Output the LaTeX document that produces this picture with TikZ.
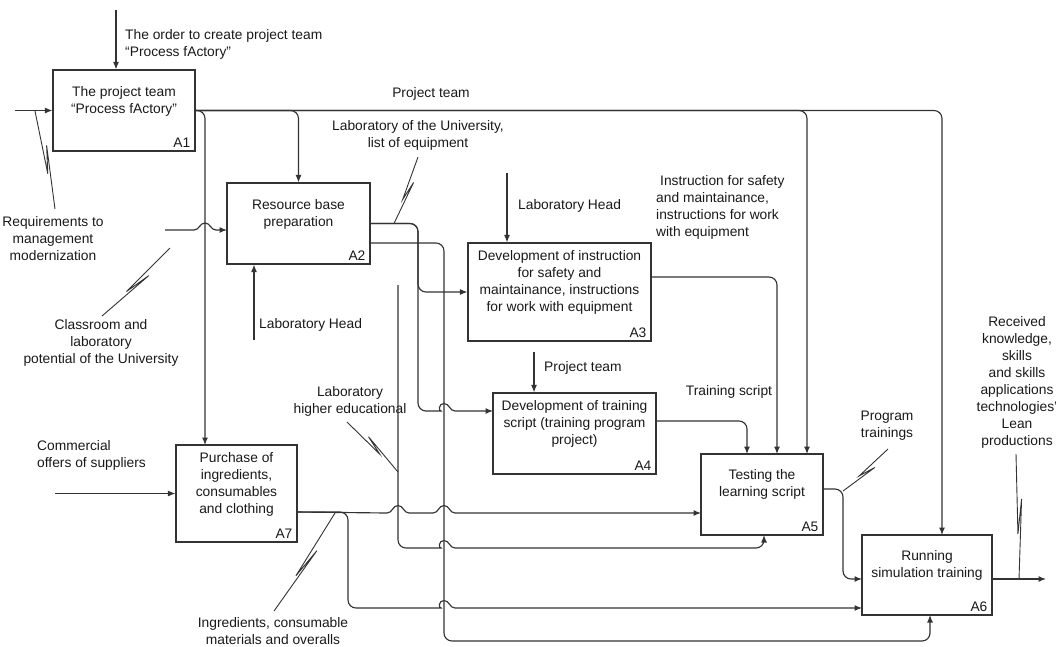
\documentclass[tikz,border=0pt]{standalone}
\usepackage{fontspec}
\setmainfont{Liberation Sans}
\usetikzlibrary{arrows.meta,calc}
\newcommand\squig[2]{\draw[sq] (#1) -- ($(#1)!0.64!(#2)$) -- ($(#1)!0.36!(#2)!4.5pt!90:(#2)$) -- (#2);}
\begin{document}
\begin{tikzpicture}[x=1pt,y=-1pt,
  every node/.style={inner sep=0pt, text=black!90, font=\fontsize{13.8}{17}\selectfont},
  box/.style={draw=black!80, line width=1.15pt},
  txt/.style={align=center},
  ltxt/.style={align=left, anchor=west},
  num/.style={anchor=south east},
  arr/.style={draw=black!80, line width=1.15pt, rounded corners=8pt, -{Latex[length=7.5pt,width=6pt]}},
  sq/.style={draw=black!80, line width=0.9pt}]
\useasboundingbox (0,0) rectangle (1056,646);

% ---------- boxes ----------
\node[box,minimum width=142pt,minimum height=81pt] (A1) at (124,110.5) {};
\node[txt] (A1t) at (124,101.5) {The project team\\“Process fActory”};
\node[num] (A1n) at ($(A1.south east)+(-5,-4)$) {A1};

\node[box,minimum width=143pt,minimum height=81pt] (A2) at (298.5,223.5) {};
\node[txt] (A2t) at (298.5,214.5) {Resource base\\preparation};
\node[num] (A2n) at ($(A2.south east)+(-5,-4)$) {A2};

\node[box,minimum width=183pt,minimum height=98pt] (A3) at (559.5,292) {};
\node[txt] (A3t) at (559.5,282) {Development of instruction\\for safety and\\maintainance, instructions\\for work with equipment};
\node[num] (A3n) at ($(A3.south east)+(-5,-4)$) {A3};

\node[box,minimum width=163pt,minimum height=81pt] (A4) at (574.5,433.5) {};
\node[txt] (A4t) at (574.5,424) {Development of training\\script (training program\\project)};
\node[num] (A4n) at ($(A4.south east)+(-5,-4)$) {A4};

\node[box,minimum width=122pt,minimum height=81pt] (A5) at (762,494.5) {};
\node[txt] (A5t) at (762,484.5) {Testing the\\learning script};
\node[num] (A5n) at ($(A5.south east)+(-5,-4)$) {A5};

\node[box,minimum width=130pt,minimum height=80pt] (A6) at (927,575) {};
\node[txt] (A6t) at (927,565.5) {Running\\simulation training};
\node[num] (A6n) at ($(A6.south east)+(-5,-4)$) {A6};

\node[box,minimum width=121pt,minimum height=97pt] (A7) at (236.5,493.5) {};
\node[txt] (A7t) at (236.5,484.5) {Purchase of\\ingredients,\\consumables\\and clothing};
\node[num] (A7n) at ($(A7.south east)+(-5,-4)$) {A7};

% ---------- labels ----------
\node[ltxt] (Lorder) at (125,44) {The order to create project team\\“Process fActory”};
\node[txt] (Lreq) at (53,239) {Requirements to\\management\\modernization};
\node[txt] (Lpt) at (431,94) {Project team};
\node[txt] (Lclass) at (101,343) {Classroom and\\laboratory\\potential of the University};
\node[txt] (Llab) at (418,135) {Laboratory of the University,\\list of equipment};
\node[ltxt] (Llh2) at (259,325) {Laboratory Head};
\node[ltxt] (Llh3) at (518,206) {Laboratory Head};
\node[ltxt] (Linstr) at (656,207.5) {\hspace*{4pt}Instruction for safety\\and maintainance,\\instructions for work\\with equipment};
\node[ltxt] (Lpt4) at (544,368) {Project team};
\node[txt] (Lts) at (729,392) {Training script};
\node[txt] (Llhe) at (350,401) {Laboratory\\higher educational};
\node[ltxt] (Lcom) at (37,455.5) {Commercial\\offers of suppliers};
\node[txt] (Ling) at (273,631) {Ingredients, consumable\\materials and overalls};
\node[txt] (Lprog) at (887,426) {Program\\trainings};
\node[txt] (Lrec) at (1017,382) {Received\\knowledge,\\skills\\and skills\\applications\\technologies'\\Lean\\productions};

% ---------- coordinates ----------
\coordinate (c1s) at (116,10);
\coordinate (i1s) at (15,110.5);
\coordinate (a6t) at (942,535);
\coordinate (a5t3) at (807,454);
\coordinate (a7t) at (205,445);
\coordinate (i2s) at (165,230);
\coordinate (a2w) at (227,230);
\coordinate (m2s) at (254,340);
\coordinate (a4w) at (493,411);
\coordinate (a2o2) at (370,243);
\coordinate (a6b) at (930,615);
\coordinate (lhe) at (398,285);
\coordinate (a5b) at (764,535);
\coordinate (c3s) at (507,173);
\coordinate (a3o) at (651,277);
\coordinate (a5t2) at (777,454);
\coordinate (c4s) at (534,352);
\coordinate (a4o) at (656,421);
\coordinate (a5t1) at (747,454);
\coordinate (i7s) at (55,493.5);
\coordinate (a7o) at (297,512);
\coordinate (a5w) at (701,513);
\coordinate (a6w2) at (862,608);
\coordinate (a5o) at (823,489);
\coordinate (a6w1) at (862,579);
\coordinate (a6o) at (992,579);
\coordinate (o6e) at (1046,579);

% ---------- connectors ----------
\draw[arr] (c1s) -- (c1s |- A1.north);
\draw[arr] (i1s) -- (A1.west);
\draw[arr] (A1.east) -| (a6t);
\draw[arr] (A1.east) -| (a5t3);
\draw[arr] (A1.east) -| (A2.north);
\draw[arr] (A1.east) -| (a7t);

\draw[arr,sharp corners] (i2s) -- (194,230) .. controls (199.5,230) and (199.5,223) .. (205,223)
  .. controls (210.5,223) and (210.5,230) .. (216,230) -- (a2w);
\draw[arr] (m2s) -- (m2s |- A2.south);

\draw[arr] (A2.east) -| (418,262) |- (A3.west);
\draw[arr] (A2.east) -| (418,411) -- (433,411) [sharp corners] .. controls (438.5,411) and (438.5,403.5) .. (444,403.5)
  .. controls (449.5,403.5) and (449.5,411) .. (455,411) -- (a4w);
\draw[arr] (a2o2) -| (444,641) -| (a6b);

\draw[arr] (lhe) -- (398,548) -- (433,548) [sharp corners] .. controls (438.5,548) and (438.5,540.5) .. (444,540.5)
  .. controls (449.5,540.5) and (449.5,548) .. (455,548) -- (756,548) [rounded corners=8pt] -| (a5b);

\draw[arr] (c3s) -- (c3s |- A3.north);
\draw[arr] (a3o) -| (a5t2);
\draw[arr] (c4s) -- (c4s |- A4.north);
\draw[arr] (a4o) -| (a5t1);

\draw[arr] (i7s) -- (A7.west);
\draw[arr,sharp corners] (a7o) -- (387,513) .. controls (392.5,513) and (392.5,505.5) .. (398,505.5)
  .. controls (403.5,505.5) and (403.5,513) .. (409,513) -- (433,513)
  .. controls (438.5,513) and (438.5,505.5) .. (444,505.5)
  .. controls (449.5,505.5) and (449.5,513) .. (455,513) -- (a5w);
\draw[arr] (a7o) -| (348,608) -- (433,608) [sharp corners] .. controls (438.5,608) and (438.5,600.5) .. (444,600.5)
  .. controls (449.5,600.5) and (449.5,608) .. (455,608) -- (a6w2);

\draw[arr] (a5o) -| (843,540) |- (a6w1);
\draw[arr] (a6o) -- (o6e);

% ---------- squiggles ----------
\coordinate (sq1a) at (35,111);   \coordinate (sq1b) at (55,209);
\coordinate (sq2a) at (170,248);  \coordinate (sq2b) at (102,316);
\coordinate (sq3a) at (418,157);  \coordinate (sq3b) at (394,223.5);
\coordinate (sq4a) at (347,422);  \coordinate (sq4b) at (398,472);
\coordinate (sq5a) at (335,513);  \coordinate (sq5b) at (274,611);
\coordinate (sq6a) at (888,449);  \coordinate (sq6b) at (843,491);
\coordinate (sq7a) at (1016,454); \coordinate (sq7b) at (1019,579);
\squig{sq1a}{sq1b}
\squig{sq2a}{sq2b}
\squig{sq3a}{sq3b}
\squig{sq4a}{sq4b}
\squig{sq5a}{sq5b}
\squig{sq6a}{sq6b}
\squig{sq7a}{sq7b}
\end{tikzpicture}
\end{document}
